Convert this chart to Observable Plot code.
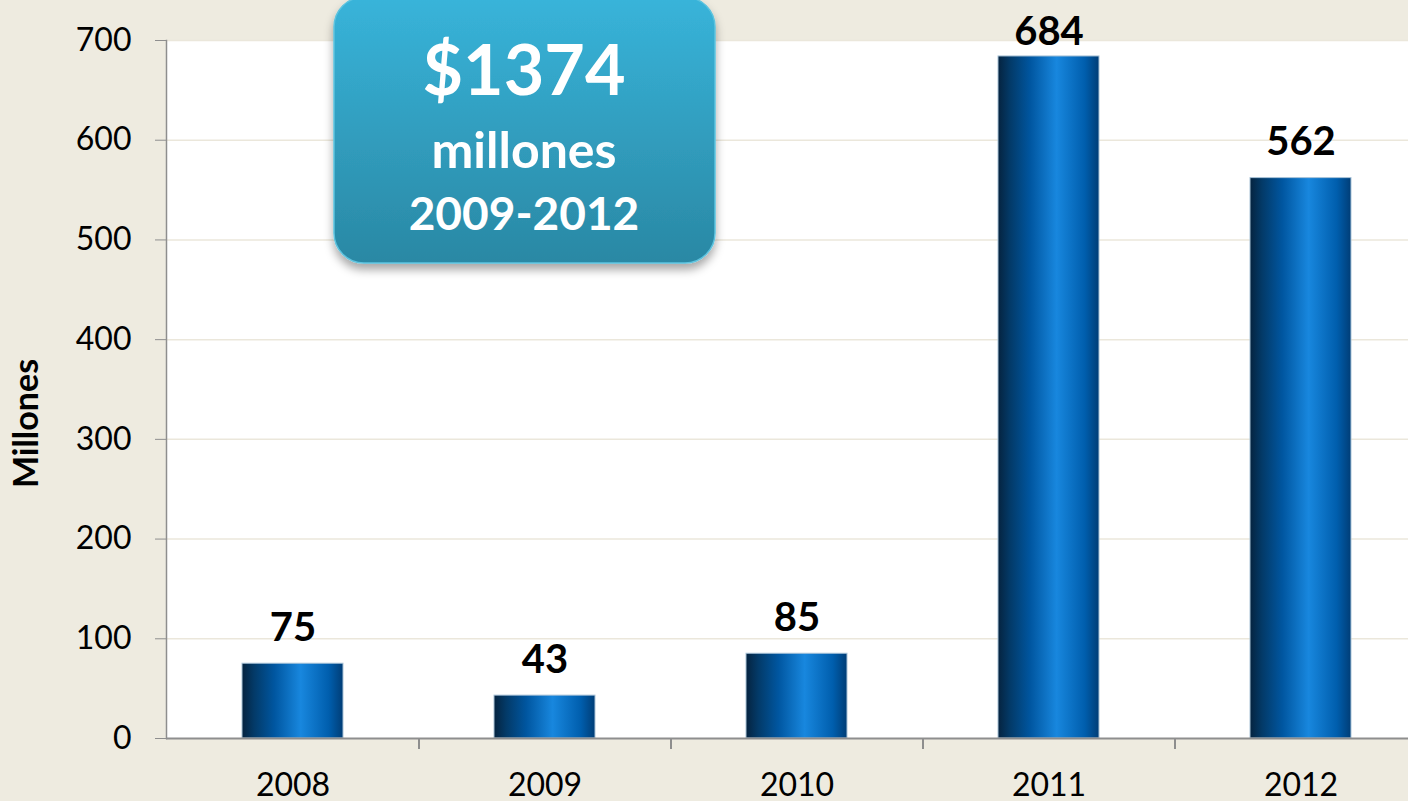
<!DOCTYPE html>
<html><head><meta charset="utf-8">
<script src="https://cdn.jsdelivr.net/npm/d3@7"></script>
<script src="https://cdn.jsdelivr.net/npm/@observablehq/plot@0.6"></script>
<style>
html,body{margin:0;padding:0;background:#eeebe0;overflow:hidden}
#chart svg{display:block}
</style></head><body><div id="chart"></div>
<script>
const years = ["2008", "2009", "2010", "2011", "2012"];
const values = [75, 43, 85, 684, 562];
const yTicks = [0, 100, 200, 300, 400, 500, 600, 700];
const yLabel = "Millones";
const calloutLines = ["$1374", "millones", "2009-2012"];

const data = years.map((year, i) => ({year, value: values[i]}));
const W = 1408, H = 801, mL = 166, mT = 40, mB = 63;
const yMax = 700;
const xRange = [166, 1426];
const step = (xRange[1] - xRange[0]) / years.length;
const font = "Lato, 'Open Sans', sans-serif";
const NS = "http://www.w3.org/2000/svg";

function defsMark() {
  const d = document.createElementNS(NS, "defs");
  d.innerHTML = `
  <linearGradient id="barGrad" x1="0" x2="1" y1="0" y2="0">
    <stop offset="0" stop-color="#05233f"/>
    <stop offset="0.12" stop-color="#033a68"/>
    <stop offset="0.32" stop-color="#0056a0"/>
    <stop offset="0.58" stop-color="#1887de"/>
    <stop offset="0.86" stop-color="#005ead"/>
    <stop offset="1" stop-color="#003d76"/>
  </linearGradient>
  <linearGradient id="boxGrad" x1="0" x2="0" y1="0" y2="1">
    <stop offset="0" stop-color="#38b4da"/>
    <stop offset="1" stop-color="#2a88a4"/>
  </linearGradient>
  <filter id="shadow" x="-10%" y="-10%" width="130%" height="130%">
    <feDropShadow dx="0" dy="6" stdDeviation="5" flood-color="#000" flood-opacity="0.35"/>
  </filter>`;
  return d;
}

function calloutMark() {
  const g = document.createElementNS(NS, "g");
  const box = {x: 334, y: -3, w: 381, h: 266, r: 30, cx: 524};
  const rect = document.createElementNS(NS, "rect");
  rect.setAttribute("x", box.x); rect.setAttribute("y", box.y);
  rect.setAttribute("width", box.w); rect.setAttribute("height", box.h);
  rect.setAttribute("rx", box.r);
  rect.setAttribute("fill", "url(#boxGrad)");
  rect.setAttribute("stroke", "#5cc3df");
  rect.setAttribute("stroke-width", "1.5");
  rect.setAttribute("filter", "url(#shadow)");
  g.appendChild(rect);
  const styles = [{size: 70, y: 95}, {size: 50, y: 168}, {size: 46, y: 230}];
  calloutLines.forEach((line, i) => {
    const t = document.createElementNS(NS, "text");
    t.setAttribute("x", box.cx);
    t.setAttribute("y", styles[i].y);
    t.setAttribute("text-anchor", "middle");
    t.setAttribute("font-size", styles[i].size);
    t.setAttribute("font-weight", "bold");
    t.setAttribute("font-family", font);
    t.setAttribute("fill", "white");
    t.textContent = line;
    g.appendChild(t);
  });
  return g;
}

const chart = Plot.plot({
  width: W, height: H,
  marginLeft: mL, marginRight: 0, marginTop: mT, marginBottom: mB,
  style: {background: "transparent", fontFamily: font, color: "black", overflow: "visible"},
  x: {domain: years, range: xRange, paddingInner: 0.6, paddingOuter: 0.3},
  y: {domain: [0, yMax]},
  marks: [
    defsMark,
    Plot.frame({fill: "white", stroke: null}),
    Plot.gridY(yTicks.slice(1), {stroke: "#ebe7db", strokeOpacity: 1, strokeWidth: 1.5}),
    Plot.barY(data, {x: "year", y: "value", fill: "url(#barGrad)", stroke: "#a9c3d8", strokeWidth: 1}),
    Plot.ruleY([0], {stroke: "#8e8e8e", strokeWidth: 2}),
    Plot.ruleX(years.slice(1), {x: d => d, y1: 0, y2: 0, insetTop: 11, dx: -step / 2, stroke: "#8e8e8e", strokeWidth: 2}),
    Plot.frame({anchor: "left", stroke: "#8e8e8e", strokeWidth: 1.5}),
    Plot.axisY({ticks: yTicks, tickSize: 11, tickPadding: 24, fontSize: 32, stroke: "#8e8e8e", fill: "black", label: null}),
    Plot.axisX({tickSize: 0, tickPadding: 35, fontSize: 32, fill: "black", label: null}),
    // labels kept inside the chart: clamp the anchor below the top of the value axis
    Plot.text(data, {x: "year", y: d => Math.min(d.value, yMax - 28), text: d => String(d.value), dy: -23, lineAnchor: "bottom", fontSize: 40, fontWeight: "bold", fill: "black"}),
    Plot.text([yLabel], {frameAnchor: "left", textAnchor: "middle", lineAnchor: "middle", rotate: -90, dx: -139, dy: 34, fontSize: 34, fontWeight: "bold", fill: "black"}),
    calloutMark
  ]
});
document.getElementById("chart").appendChild(chart);
</script>
</body></html>
